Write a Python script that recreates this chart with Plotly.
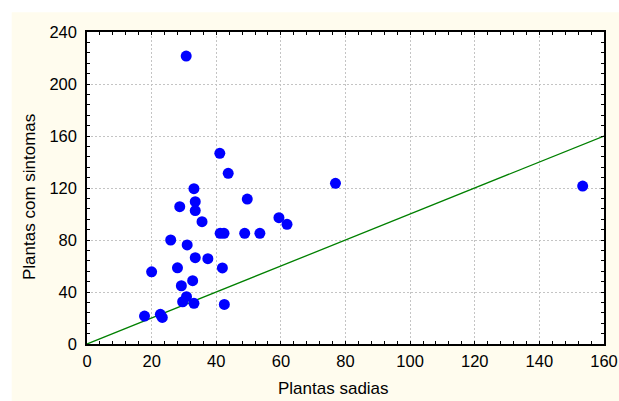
import plotly.graph_objects as go

# Data
plantas_sadias = [30.7, 41.1, 43.7, 33.1, 76.9, 28.7, 33.5, 33.5, 49.6, 35.6,
                  59.4, 61.9, 41.2, 42.4, 48.8, 53.5, 25.9, 31.0, 33.5, 37.4,
                  20.0, 28.0, 41.9, 32.7, 29.2, 30.8, 29.6, 33.1, 42.5, 17.8,
                  22.7, 23.3, 153.4]
plantas_com_sintomas = [221.5, 146.7, 131.3, 119.5, 123.6, 105.6, 109.5, 102.6, 111.5, 94.1,
                        97.2, 92.1, 85.1, 85.1, 85.1, 85.1, 80.0, 76.2, 66.4, 65.6,
                        55.5, 58.6, 58.5, 48.7, 44.8, 36.4, 32.5, 31.3, 30.4, 21.5,
                        22.8, 20.4, 121.5]
ref_line_x = [0, 160]
ref_line_y = [0, 160]
x_ticks = [0, 20, 40, 60, 80, 100, 120, 140, 160]
y_ticks = [0, 40, 80, 120, 160, 200, 240]

fig = go.Figure()
fig.add_trace(go.Scatter(x=ref_line_x, y=ref_line_y, mode="lines",
                         line=dict(color="#008000", width=1.3),
                         showlegend=False, hoverinfo="skip"))
fig.add_trace(go.Scatter(x=plantas_sadias, y=plantas_com_sintomas, mode="markers",
                         marker=dict(color="#0000FF", size=11, line=dict(width=0)),
                         showlegend=False))

font_family = "Liberation Sans, Arial, sans-serif"
axis_common = dict(
    showline=True, linecolor="black", linewidth=1.5, mirror="allticks",
    ticks="inside", ticklen=3.5, tickwidth=1, tickcolor="black",
    showgrid=True, gridcolor="#c4c4c4", griddash="2px,2px", gridwidth=1,
    zeroline=False, automargin=False,
    tickfont=dict(family=font_family, size=16.5, color="black"),
)

fig.update_xaxes(range=[0, 160], tickvals=x_ticks, ticklabelstandoff=1,
                 minor=dict(dtick=4, ticks="inside", ticklen=3.5, tickcolor="black", showgrid=False),
                 **axis_common)
fig.update_yaxes(range=[0, 240], tickvals=y_ticks, ticklabelstandoff=5,
                 minor=dict(dtick=8, ticks="inside", ticklen=3.5, tickcolor="black", showgrid=False),
                 **axis_common)

fig.update_layout(
    width=619, height=401,
    margin=dict(l=87, r=15, t=32, b=57, autoexpand=False),
    paper_bgcolor="#FFFCEE", plot_bgcolor="white",
    font=dict(family=font_family, color="black"),
    shapes=[
        dict(type="rect", xref="paper", yref="paper", x0=-0.2, x1=1.1, y0=1.063, y1=1.2,
             fillcolor="white", line=dict(width=0), layer="above"),
        dict(type="rect", xref="paper", yref="paper", x0=-0.2, x1=-0.1456, y0=-0.2, y1=1.2,
             fillcolor="white", line=dict(width=0), layer="above"),
    ],
    annotations=[
        dict(text="Plantas sadias", xref="paper", yref="paper",
             x=(333 - 87) / 517, y=(344 - 388) / 312, showarrow=False,
             xanchor="center", yanchor="middle",
             font=dict(family=font_family, size=17, color="black")),
        dict(text="Plantas com sintomas", xref="paper", yref="paper",
             x=(29 - 87) / 517, y=(344 - 197) / 312, showarrow=False, textangle=-90,
             xanchor="center", yanchor="middle",
             font=dict(family=font_family, size=17, color="black")),
    ],
)

fig.write_html("out.html",
               config={"displayModeBar": False},
               post_script="document.body.style.margin='0px';document.body.style.overflow='hidden';")
